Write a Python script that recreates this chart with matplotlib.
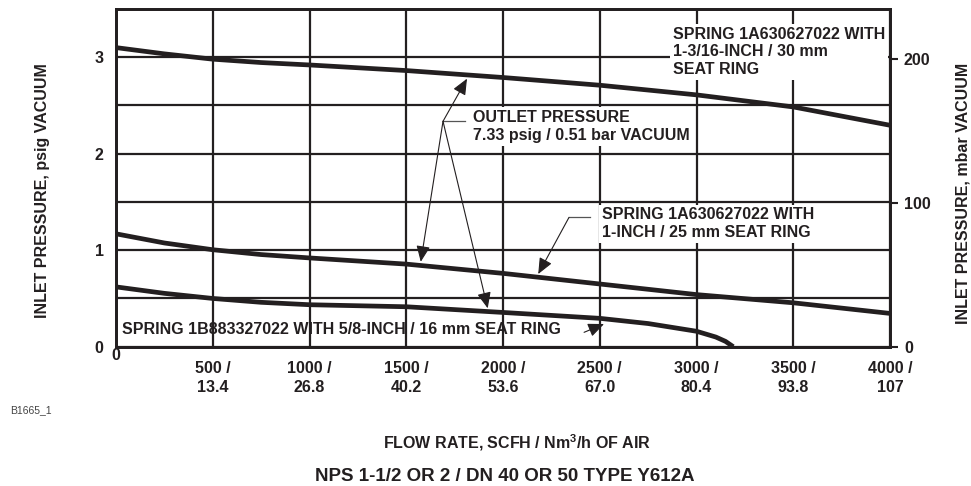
import matplotlib
matplotlib.use("Agg")
import matplotlib.pyplot as plt

plt.rcParams['font.family'] = ['Liberation Sans', 'DejaVu Sans']
plt.rcParams['font.weight'] = 'bold'

INK = '#231f20'

# ---------------- data ----------------
flow_top = [0, 250, 500, 750, 1000, 1500, 2000, 2500, 3000, 3500, 4000]
psig_top = [3.10, 3.035, 2.98, 2.945, 2.92, 2.862, 2.79, 2.71, 2.61, 2.485, 2.295]

flow_mid = [0, 250, 500, 750, 1000, 1500, 2000, 2500, 3000, 3500, 4000]
psig_mid = [1.17, 1.075, 1.005, 0.955, 0.92, 0.856, 0.76, 0.65, 0.54, 0.455, 0.345]

flow_low = [0, 250, 500, 750, 1000, 1500, 2000, 2500, 2750, 3000, 3100, 3150, 3190]
psig_low = [0.62, 0.553, 0.50, 0.46, 0.435, 0.414, 0.355, 0.294, 0.24, 0.16, 0.10, 0.055, 0.0]

x_ticks = [0, 500, 1000, 1500, 2000, 2500, 3000, 3500, 4000]
x_ticklabels = ['', '500 /\n13.4', '1000 /\n26.8', '1500 /\n40.2', '2000 /\n53.6',
                '2500 /\n67.0', '3000 /\n80.4', '3500 /\n93.8', '4000 /\n107']
y_ticks = [0, 1, 2, 3]
y_ticklabels = ['0', '1', '2', '3']
mbar_ticks = [0, 100, 200]

label_top = 'SPRING 1A630627022 WITH\n1-3/16-INCH / 30 mm\nSEAT RING'
label_outlet = 'OUTLET PRESSURE\n7.33 psig / 0.51 bar VACUUM'
label_mid = 'SPRING 1A630627022 WITH\n1-INCH / 25 mm SEAT RING'
label_low = 'SPRING 1B883327022 WITH 5/8-INCH / 16 mm SEAT RING'

# ---------------- figure ----------------
fig = plt.figure(figsize=(9.71, 4.86), dpi=100)
ax = fig.add_axes([116/971, 1-346.7/486, (890-116)/971, (346.7-9)/486])
ax.set_xlim(0, 4000)
ax.set_ylim(0, 3.5)

# grid
ax.set_xticks(x_ticks)
ax.set_xticklabels(x_ticklabels)
ax.set_yticks(y_ticks)
ax.set_yticklabels(y_ticklabels)
ax.set_yticks([0.5, 1.5, 2.5], minor=True)
ax.grid(True, which='both', color=INK, lw=1.6, zorder=1)
ax.set_axisbelow(True)
ax.tick_params(axis='both', which='both', length=0)
ax.tick_params(axis='x', pad=10, labelsize=11.5, colors=INK)
ax.tick_params(axis='y', pad=9, labelsize=11.5, colors=INK)
for lab in ax.get_xticklabels():
    lab.set_linespacing(1.4)
for s in ax.spines.values():
    s.set_linewidth(2.0)
    s.set_color(INK)

ax.annotate('0', xy=(0, 0), xycoords=('data', 'axes fraction'), xytext=(0, -6),
            textcoords='offset points', ha='center', va='center', fontsize=11.5,
            color=INK, fontweight='bold')

# curves
for fx, py in [(flow_top, psig_top), (flow_mid, psig_mid), (flow_low, psig_low)]:
    ax.plot(fx, py, color=INK, lw=3.4, solid_capstyle='butt',
            solid_joinstyle='round', zorder=3)

# right axis
ax2 = ax.twinx()
ax2.set_ylim(0, 235)
ax2.set_yticks(mbar_ticks)
ax2.tick_params(axis='y', direction='out', length=6, width=1.5, pad=4,
                labelsize=11.5, colors=INK)
for s in ax2.spines.values():
    s.set_linewidth(2.0)
    s.set_color(INK)

# labels with white background
box = dict(facecolor='white', edgecolor='none', pad=2)
ax.text(2877, 3.055, label_top, ha='left', va='center', fontsize=11.5, color=INK,
        bbox=box, zorder=2, linespacing=1.2)
ax.text(1845, 2.281, label_outlet, ha='left', va='center', fontsize=11.5, color=INK,
        bbox=box, zorder=2, linespacing=1.25)
ax.text(2510, 1.272, label_mid, ha='left', va='center', fontsize=11.5, color=INK,
        bbox=box, zorder=2, linespacing=1.25)
ax.text(33, 0.183, label_low, ha='left', va='center', fontsize=11.5, color=INK, zorder=2)

# leader lines and arrows
lead = dict(color='#555555', lw=0.9, zorder=4)
ax.plot([1690, 1804], [2.336, 2.336], **lead)
ax.plot([2341, 2450], [1.340, 1.340], **lead)

arr = dict(arrowstyle='-|>,head_length=0.65,head_width=0.28', color=INK, lw=0.8,
           mutation_scale=15, shrinkA=0, shrinkB=0)
for tip in [(1814, 2.778), (1575, 0.880), (1921, 0.398)]:
    ax.annotate('', xy=tip, xytext=(1690, 2.336), arrowprops=arr, zorder=4)
ax.annotate('', xy=(2182, 0.753), xytext=(2341, 1.340), arrowprops=arr, zorder=4)
ax.annotate('', xy=(2522, 0.235), xytext=(2419, 0.149), arrowprops=arr, zorder=4)

# axis titles
fig.text(43/971, 1-191/486, 'INLET PRESSURE, psig VACUUM', rotation=90, ha='center',
         va='center', fontsize=11.5, color=INK)
fig.text(963/971, 1-193/486, 'INLET PRESSURE, mbar VACUUM', rotation=90, ha='center',
         va='center', fontsize=11.5, color=INK)
fig.text(517/971, 1-443/486, 'FLOW RATE, SCFH / Nm$^\\mathregular{3}$/h OF AIR', ha='center',
         va='center', fontsize=11.5, color=INK)
fig.text(505/971, 1-476.7/486, 'NPS 1-1/2 OR 2 / DN 40 OR 50 TYPE Y612A', ha='center',
         va='center', fontsize=13.5, color=INK)
fig.text(10/971, 1-410/486, 'B1665_1', ha='left', va='center', fontsize=7.5,
         color='#444444', fontweight='normal')

fig.savefig('out.png', dpi=100)
